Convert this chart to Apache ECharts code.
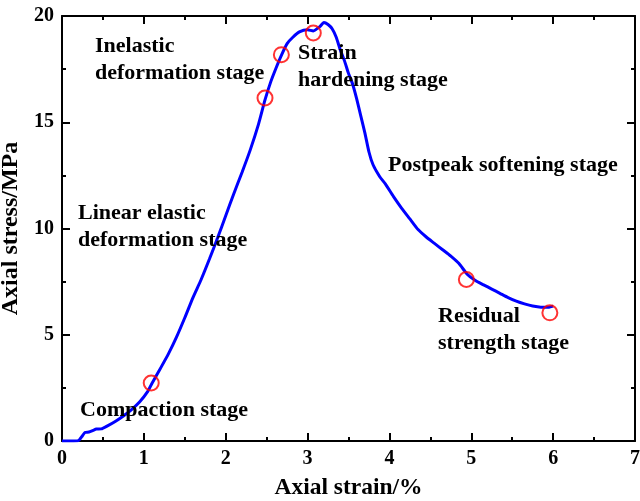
<!DOCTYPE html>
<html>
<head>
<meta charset="utf-8">
<script src="https://cdn.jsdelivr.net/npm/echarts@6/dist/echarts.min.js"></script>
<style>
  html, body { margin: 0; padding: 0; background: #fff; }
  #chart { width: 640px; height: 501px; }
</style>
</head>
<body>
<div id="chart"></div>
<script>
// Stress-strain curve (axial strain in %, axial stress in MPa)
const strain = [0, 0.1, 0.2, 0.25, 0.28, 0.33, 0.38, 0.42, 0.48, 0.55, 0.65, 0.75, 0.85, 0.95,
  1.05, 1.1, 1.2, 1.3, 1.4, 1.5, 1.6, 1.7, 1.8, 1.9, 2.0, 2.1, 2.2, 2.3, 2.4, 2.48, 2.55, 2.62,
  2.68, 2.75, 2.82, 2.9, 3.0, 3.07, 3.15, 3.2, 3.25, 3.3, 3.35, 3.4, 3.45, 3.5, 3.55, 3.6, 3.65,
  3.7, 3.75, 3.8, 3.88, 3.95, 4.05, 4.15, 4.25, 4.35, 4.45, 4.55, 4.65, 4.75, 4.85, 4.95, 5.05,
  5.15, 5.25, 5.35, 5.45, 5.55, 5.65, 5.75, 5.85, 5.95, 6.0];
const stress = [0, 0, 0.02, 0.25, 0.4, 0.42, 0.5, 0.56, 0.57, 0.7, 0.92, 1.18, 1.48, 1.85,
  2.35, 2.72, 3.4, 4.1, 4.9, 5.8, 6.75, 7.6, 8.55, 9.55, 10.6, 11.65, 12.65, 13.7, 14.9, 16.05, 16.9, 17.6,
  18.15, 18.7, 19.0, 19.25, 19.35, 19.3, 19.5, 19.7, 19.6, 19.4, 19.0, 18.4, 17.9, 17.3, 16.8, 16.1, 15.3,
  14.5, 13.6, 13.0, 12.45, 12.1, 11.5, 10.95, 10.45, 9.95, 9.6, 9.3, 9.0, 8.7, 8.35, 7.85, 7.55,
  7.35, 7.15, 6.95, 6.75, 6.58, 6.45, 6.35, 6.3, 6.3, 6.35];

// Stage boundary points
const stageStrain = [1.09, 2.48, 2.68, 3.07, 4.94, 5.96];
const stageStress = [2.73, 16.14, 18.18, 19.2, 7.6, 6.03];

// Stage names
const stageLabels = [
  { lines: ['Inelastic', 'deformation stage'], x: 95, y: 53 },
  { lines: ['Strain', 'hardening stage'], x: 298, y: 60 },
  { lines: ['Postpeak softening stage'], x: 388, y: 172 },
  { lines: ['Linear elastic', 'deformation stage'], x: 78, y: 220 },
  { lines: ['Compaction stage'], x: 80, y: 417 },
  { lines: ['Residual', 'strength stage'], x: 438, y: 323 }
];

const FONT = '"Liberation Serif", "Times New Roman", serif';
const curve = strain.map((x, i) => [x, stress[i]]);
const points = stageStrain.map((x, i) => [x, stageStress[i]]);

const graphics = [];
stageLabels.forEach(l => {
  l.lines.forEach((t, k) => {
    graphics.push({
      type: 'text', left: l.x, top: l.y + k * 27 - 18, z: 10,
      style: { text: t, font: 'bold 22px ' + FONT, fill: '#000' }
    });
  });
});

const axisCommon = {
  axisLine: { show: true, onZero: false, lineStyle: { color: '#000', width: 2 } },
  axisTick: { show: true, inside: true, length: 8, lineStyle: { color: '#000', width: 2 } },
  minorTick: { show: true, splitNumber: 2, length: 4, lineStyle: { color: '#000', width: 2 } },
  splitLine: { show: false }
};

const chart = echarts.init(document.getElementById('chart'), null, { renderer: 'canvas' });
chart.setOption({
  animation: false,
  backgroundColor: '#fff',
  grid: { left: 62, right: 5, top: 16, bottom: 60, containLabel: false, outerBoundsMode: 'none' },
  xAxis: [
    Object.assign({}, axisCommon, {
      type: 'value', min: 0, max: 7, interval: 1, position: 'bottom',
      name: 'Axial strain/%', nameLocation: 'middle', nameGap: 35,
      nameTextStyle: { fontFamily: FONT, fontWeight: 'bold', fontSize: 23.5, color: '#000' },
      axisLabel: { fontFamily: FONT, fontWeight: 'bold', fontSize: 20, color: '#000', margin: 8 }
    }),
    Object.assign({}, axisCommon, {
      type: 'value', min: 0, max: 7, interval: 1, position: 'top',
      axisLabel: { show: false }
    })
  ],
  yAxis: [
    Object.assign({}, axisCommon, {
      type: 'value', min: 0, max: 20, interval: 5, position: 'left',
      name: 'Axial stress/MPa', nameLocation: 'middle', nameGap: 28,
      nameTextStyle: { fontFamily: FONT, fontWeight: 'bold', fontSize: 24, color: '#000' },
      axisLabel: { fontFamily: FONT, fontWeight: 'bold', fontSize: 20, color: '#000', margin: 8 }
    }),
    Object.assign({}, axisCommon, {
      type: 'value', min: 0, max: 20, interval: 5, position: 'right',
      axisLabel: { show: false }
    })
  ],
  series: [
    {
      type: 'line', data: curve, xAxisIndex: 0, yAxisIndex: 0,
      showSymbol: false, smooth: 0.2,
      lineStyle: { color: '#0000ff', width: 3 }, z: 2
    },
    {
      type: 'scatter', data: points, xAxisIndex: 0, yAxisIndex: 0,
      symbol: 'circle', symbolSize: 15,
      itemStyle: { color: 'rgba(0,0,0,0)', borderColor: '#ff0000', borderWidth: 2 }, z: 3
    }
  ],
  graphic: graphics
});
</script>
</body>
</html>
